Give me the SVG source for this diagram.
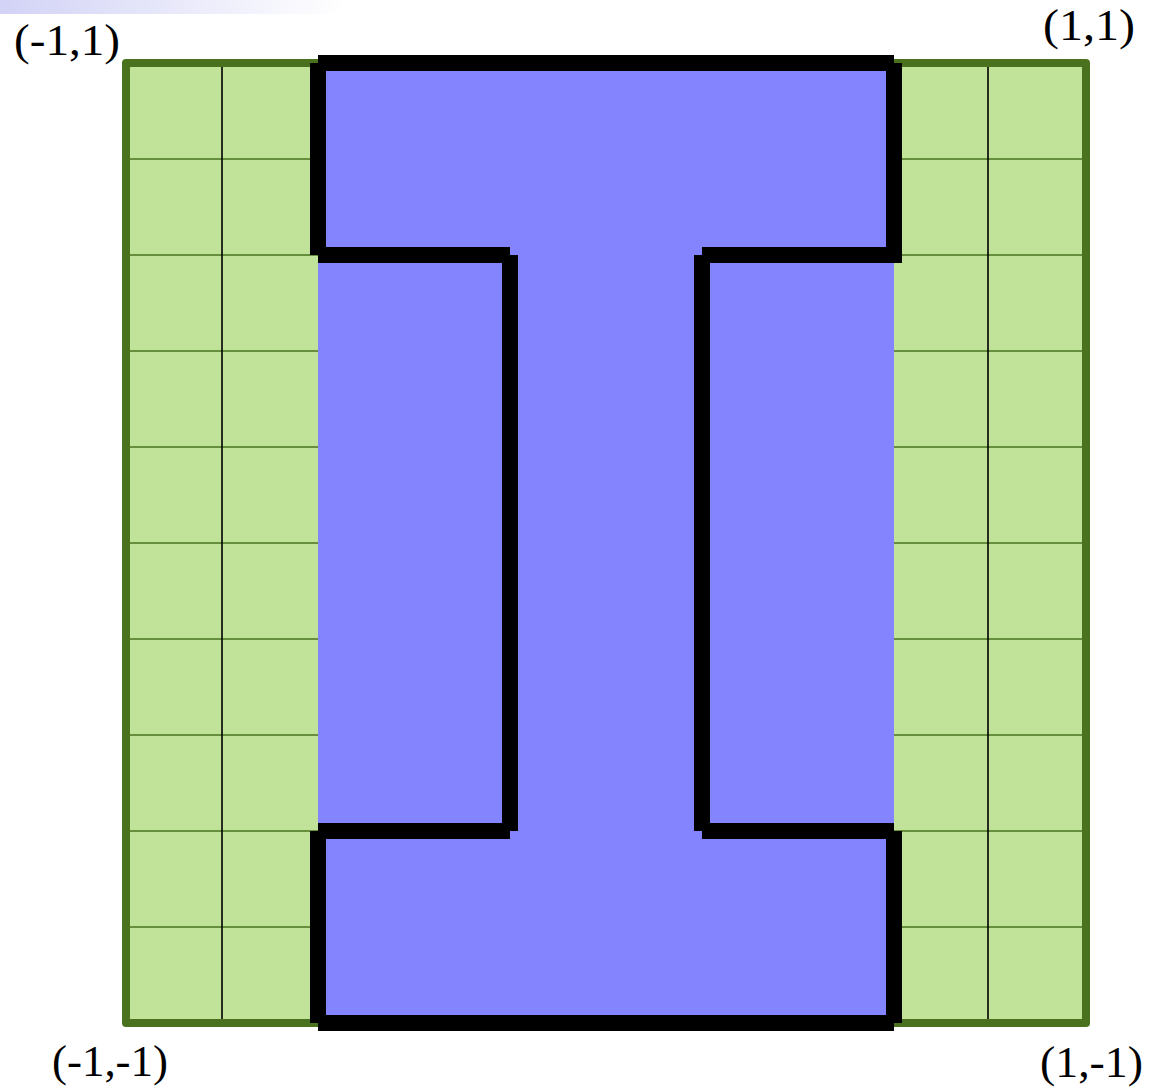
<svg xmlns="http://www.w3.org/2000/svg" width="1155" height="1087" viewBox="0 0 1155 1087">
  <defs>
    <linearGradient id="topbar" x1="0" y1="0" x2="1" y2="0">
      <stop offset="0" stop-color="#d2d2f6"/>
      <stop offset="1" stop-color="#ffffff"/>
    </linearGradient>
  </defs>
  <style>
    .lbl { font-family: "Liberation Serif", "Times New Roman", serif; font-size: 44px; fill: #000; }
    .hgrid { stroke: #4a721e; stroke-width: 1.6; }
    .vgrid { stroke: #000; stroke-width: 1.6; }
    .edge { stroke: #000; stroke-width: 16; stroke-linecap: butt; }
  </style>

  <rect x="0" y="0" width="345" height="14" fill="url(#topbar)"/>

  <g id="domain">
    <rect x="126" y="63" width="960" height="960" fill="#c0e299"/>
    <g id="grid">
      <line class="hgrid" x1="126" y1="159" x2="318" y2="159"/>
      <line class="hgrid" x1="126" y1="255" x2="318" y2="255"/>
      <line class="hgrid" x1="126" y1="351" x2="318" y2="351"/>
      <line class="hgrid" x1="126" y1="447" x2="318" y2="447"/>
      <line class="hgrid" x1="126" y1="543" x2="318" y2="543"/>
      <line class="hgrid" x1="126" y1="639" x2="318" y2="639"/>
      <line class="hgrid" x1="126" y1="735" x2="318" y2="735"/>
      <line class="hgrid" x1="126" y1="831" x2="318" y2="831"/>
      <line class="hgrid" x1="126" y1="927" x2="318" y2="927"/>
      <line class="hgrid" x1="894" y1="159" x2="1086" y2="159"/>
      <line class="hgrid" x1="894" y1="255" x2="1086" y2="255"/>
      <line class="hgrid" x1="894" y1="351" x2="1086" y2="351"/>
      <line class="hgrid" x1="894" y1="447" x2="1086" y2="447"/>
      <line class="hgrid" x1="894" y1="543" x2="1086" y2="543"/>
      <line class="hgrid" x1="894" y1="639" x2="1086" y2="639"/>
      <line class="hgrid" x1="894" y1="735" x2="1086" y2="735"/>
      <line class="hgrid" x1="894" y1="831" x2="1086" y2="831"/>
      <line class="hgrid" x1="894" y1="927" x2="1086" y2="927"/>
      <line class="vgrid" x1="222" y1="63" x2="222" y2="1023"/>
      <line class="vgrid" x1="988" y1="63" x2="988" y2="1023"/>
    </g>
    <rect x="126" y="63" width="960" height="960" fill="none" stroke="#4a721e" stroke-width="8" stroke-linejoin="round"/>
  </g>

  <g id="ishape">
    <rect x="318" y="63" width="576" height="960" fill="#8484ff"/>
    <g id="outline">
      <line class="edge" x1="318" y1="63" x2="894" y2="63"/>
      <line class="edge" x1="318" y1="63" x2="318" y2="255"/>
      <line class="edge" x1="318" y1="255" x2="510" y2="255"/>
      <line class="edge" x1="510" y1="255" x2="510" y2="831"/>
      <line class="edge" x1="318" y1="831" x2="510" y2="831"/>
      <line class="edge" x1="318" y1="831" x2="318" y2="1023"/>
      <line class="edge" x1="318" y1="1023" x2="894" y2="1023"/>
      <line class="edge" x1="894" y1="831" x2="894" y2="1023"/>
      <line class="edge" x1="702" y1="831" x2="894" y2="831"/>
      <line class="edge" x1="702" y1="255" x2="702" y2="831"/>
      <line class="edge" x1="702" y1="255" x2="902" y2="255"/>
      <line class="edge" x1="894" y1="63" x2="894" y2="255"/>
    </g>
  </g>

  <g id="labels">
    <text class="lbl" x="14" y="55" textLength="106" lengthAdjust="spacingAndGlyphs">(-1,1)</text>
    <text class="lbl" x="1043" y="40" textLength="92" lengthAdjust="spacingAndGlyphs">(1,1)</text>
    <text class="lbl" x="52" y="1076" textLength="116" lengthAdjust="spacingAndGlyphs">(-1,-1)</text>
    <text class="lbl" x="1040" y="1077" textLength="103" lengthAdjust="spacingAndGlyphs">(1,-1)</text>
  </g>
</svg>
